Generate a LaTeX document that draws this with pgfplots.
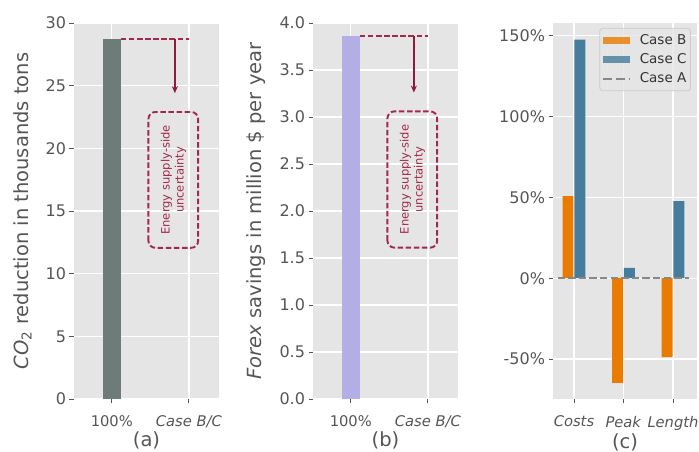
\documentclass[border=0pt]{standalone}
\usepackage{fontspec}
\setmainfont{DejaVu Sans}
\usepackage{pgfplots}
\pgfplotsset{compat=1.18}
\usetikzlibrary{arrows.meta}
\definecolor{bgc}{HTML}{E5E5E5}
\definecolor{tickc}{HTML}{555555}
\definecolor{barA}{HTML}{6E7C79}
\definecolor{barB}{HTML}{B3AEE6}
\definecolor{orangeB}{HTML}{E87B00}
\definecolor{blueC}{HTML}{467C9C}
\definecolor{annred}{HTML}{A3284A}
\definecolor{arrred}{HTML}{8E1A3C}
\definecolor{caseA}{HTML}{888888}
\definecolor{legframe}{HTML}{CCCCCC}

\tikzset{ann/.style={annred, line width=1.9pt, dash pattern=on 5.5pt off 2.6pt}}
\pgfplotsset{
  gg/.style={
    scale only axis, width=145pt, height=376pt,
    anchor=south west,
    axis background/.style={fill=bgc},
    axis line style={draw=none},
    grid=major, major grid style={white, line width=1.3pt},
    tick pos=left, tick align=outside, major tick length=4.5pt,
    every tick/.style={tickc, line width=0.9pt},
    /pgf/number format/assume math mode=true,
    yticklabel style={font=\fontsize{16}{19}\selectfont, text=tickc},
    xticklabel style={font=\fontsize{14.7}{17}\selectfont, text=tickc},
    xticklabel shift=9pt,
    label style={font=\fontsize{19.5}{23}\selectfont, text=tickc},
    ylabel shift=7pt,
    xlabel shift=-3.5pt,
  },
}

\begin{document}
\begin{tikzpicture}
\useasboundingbox (0,0) rectangle (699pt,452pt);

% ---------- (a)
\begin{axis}[gg, at={(74pt,53pt)},
  xmin=-0.49, xmax=1.39, ymin=0, ymax=30,
  xtick={0,1}, xticklabels={100\%,\textit{Case B/C}},
  ytick={0,5,10,15,20,25,30},
  yticklabels={0,5,10,15,20,25,30},
  ylabel={\textit{CO}\textsubscript{2} reduction in thousands tons},
  xlabel={(a)}]
\addplot[ybar, bar width=0.235, fill=barA, draw=none] coordinates {(0,28.75)};
\draw[ann] (axis cs:0.1175,28.75) -- (axis cs:1,28.75);
\draw[arrred, line width=1.4pt, -{Stealth[length=7pt,width=6pt]}] (axis cs:0.818,28.75) -- (axis cs:0.818,24.4);
\draw[ann, rounded corners=7pt] (axis cs:0.475,12.06) rectangle (axis cs:1.12,22.9);
\node[rotate=90, align=center, text=annred, font=\fontsize{11.5}{14}\selectfont] at (axis cs:0.8,17.48) {Energy supply-side\\uncertainty};
\end{axis}

% ---------- (b)
\begin{axis}[gg, at={(313pt,53pt)},
  xmin=-0.49, xmax=1.39, ymin=0, ymax=4,
  xtick={0,1}, xticklabels={100\%,\textit{Case B/C}},
  ytick={0,0.5,1,1.5,2,2.5,3,3.5,4},
  yticklabels={0.0,0.5,1.0,1.5,2.0,2.5,3.0,3.5,4.0},
  ylabel={\textit{Forex} savings in million \$ per year},
  xlabel={(b)}]
\addplot[ybar, bar width=0.235, fill=barB, draw=none] coordinates {(0,3.86)};
\draw[ann] (axis cs:0.1175,3.86) -- (axis cs:1,3.86);
\draw[arrred, line width=1.4pt, -{Stealth[length=7pt,width=6pt]}] (axis cs:0.818,3.86) -- (axis cs:0.818,3.26);
\draw[ann, rounded corners=7pt] (axis cs:0.475,1.61) rectangle (axis cs:1.12,3.06);
\node[rotate=90, align=center, text=annred, font=\fontsize{11.5}{14}\selectfont] at (axis cs:0.8,2.335) {Energy supply-side\\uncertainty};
\end{axis}

% ---------- (c)
\begin{axis}[gg, at={(553pt,53pt)}, width=144pt,
  xmin=-0.424, xmax=2.485, ymin=-74.7, ymax=157.8,
  xtick={0,1,2}, xticklabels={\textit{Costs},\textit{Peak},\textit{Length}},
  ytick={-50,0,50,100,150},
  yticklabels={-50\%,0\%,50\%,100\%,150\%},
  xlabel={(c)},
  legend style={at={(0.958,0.987)}, anchor=north east,
    fill=bgc, fill opacity=0.8, draw opacity=1, text opacity=1,
    draw=legframe, rounded corners=3pt, line width=0.8pt,
    font=\fontsize{13.5}{16}\selectfont, text=black!80,
    row sep=3.5pt, inner xsep=2pt, inner ysep=4.5pt,
    /tikz/every odd column/.append style={column sep=7pt}},
  legend cell align=left]
\addplot[ybar, bar width=0.22, bar shift=-0.12, fill=orangeB, draw=none,
  legend image code/.code={\fill[orangeB, sharp corners] (0pt,-3.7pt) rectangle (27pt,3.7pt);}]
  coordinates {(0,50.7) (1,-64.7) (2,-48.8)};
\addlegendentry{Case B}
\addplot[ybar, bar width=0.22, bar shift=0.12, fill=blueC, draw=none,
  legend image code/.code={\fill[blueC, sharp corners] (0pt,-3.7pt) rectangle (27pt,3.7pt);}]
  coordinates {(0,147.5) (1,6.4) (2,47.6)};
\addlegendentry{Case C}
\addplot[caseA, line width=2pt, dash pattern=on 7.4pt off 3.2pt, mark=none,
  legend image code/.code={\draw[caseA, sharp corners, line width=2pt, dash pattern=on 9pt off 4pt] (0pt,0pt) -- (27pt,0pt);}]
  coordinates {(-0.33,0) (2.32,0)};
\addlegendentry{Case A}
\end{axis}
\end{tikzpicture}
\end{document}
